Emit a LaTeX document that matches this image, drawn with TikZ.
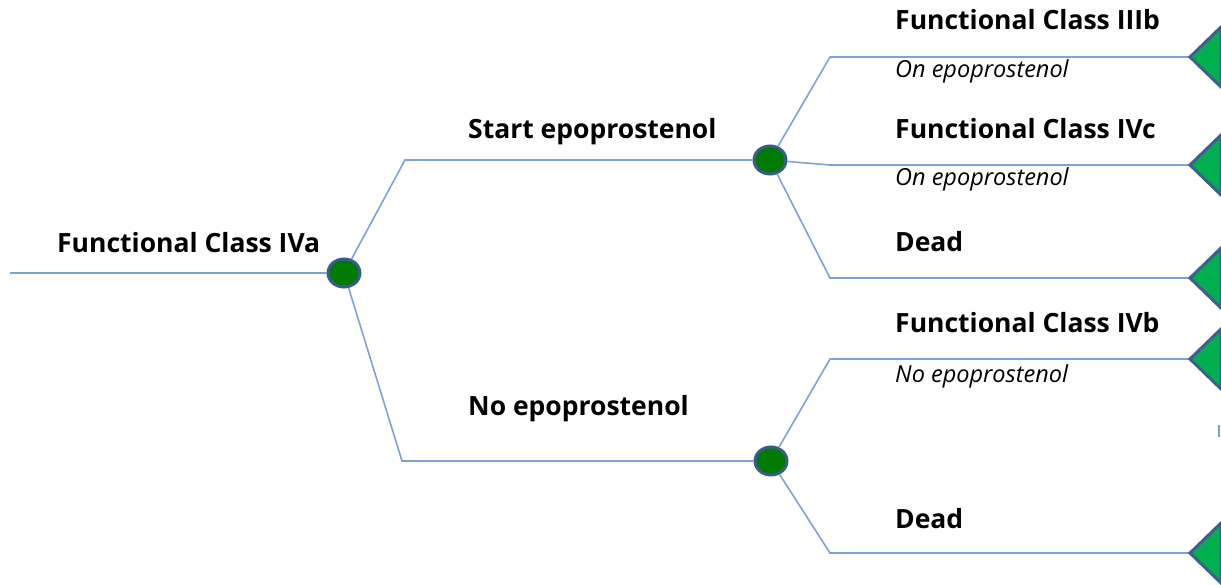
\documentclass[tikz,border=0pt]{standalone}
\usepackage{fontspec}
\setmainfont{Open Sans}
\usetikzlibrary{shapes.geometric}
\definecolor{linec}{HTML}{7FA2D6}
\definecolor{nodeb}{HTML}{3B5B8C}
\definecolor{nodeg}{HTML}{007A00}
\definecolor{trib}{HTML}{3F5E8E}
\definecolor{trig}{HTML}{00B050}
\begin{document}
\begin{tikzpicture}[x=1pt,y=-1pt,
  branch/.style={draw=linec, line width=1.6pt},
  chance/.style={ellipse, draw=nodeb, line width=3pt, fill=nodeg, minimum width=32pt, minimum height=28pt, inner sep=0pt},
  term/.style={draw=trib, line width=3pt, fill=trig, line join=miter},
  title/.style={anchor=base west, font=\bfseries\fontsize{26.5}{30}\selectfont, inner sep=0pt},
  sub/.style={anchor=base west, font=\itshape\fontsize{23.5}{27}\selectfont, inner sep=0pt}]
\useasboundingbox (0,0) rectangle (1221,585);

% chance nodes
\node[chance] (c1) at (344,273) {};
\node[chance] (c2) at (770,160) {};
\node[chance] (c3) at (771,461) {};

% bend points
\coordinate (r0) at (10,273);
\coordinate (u1) at (405,160);
\coordinate (d1) at (402,461);
\coordinate (a1) at (830,57);
\coordinate (a2) at (830,165);
\coordinate (a3) at (830,278);
\coordinate (b1) at (830,359);
\coordinate (b2) at (830,553);

% terminal tips
\coordinate (t1) at (1190,57);
\coordinate (t2) at (1190,165);
\coordinate (t3) at (1190,278);
\coordinate (t4) at (1190,359);
\coordinate (t5) at (1190,553);

% connectors
\draw[branch] (r0) -- (c1);
\draw[branch] (c1) -- (u1) -- (c2);
\draw[branch] (c1) -- (d1) -- (c3);
\draw[branch] (c2) -- (a1) -- (t1);
\draw[branch] (c2) -- (a2) -- (t2);
\draw[branch] (c2) -- (a3) -- (t3);
\draw[branch] (c3) -- (b1) -- (t4);
\draw[branch] (c3) -- (b2) -- (t5);

% terminal triangles
\foreach \t in {t1,t2,t3,t4,t5}
  \draw[term] (\t) -- ++(31,-30) -- ++(0,60) -- cycle;

% small tick
\draw[linec, line width=1.5pt] (1219,425) -- (1219,437);

% labels
\node[title] (l0) at (57,253) {Functional Class IVa};
\node[title] (l1) at (468,139) {Start epoprostenol};
\node[title] (l2) at (468,415) {No epoprostenol};
\node[title] (l3) at (895,30) {Functional Class IIIb};
\node[sub]   (s3) at (895,78) {On epoprostenol};
\node[title] (l4) at (895,139) {Functional Class IVc};
\node[sub]   (s4) at (895,186) {On epoprostenol};
\node[title] (l5) at (895,252) {Dead};
\node[title] (l6) at (895,333) {Functional Class IVb};
\node[sub]   (s6) at (895,382) {No epoprostenol};
\node[title] (l7) at (895,528) {Dead};
\end{tikzpicture}
\end{document}
